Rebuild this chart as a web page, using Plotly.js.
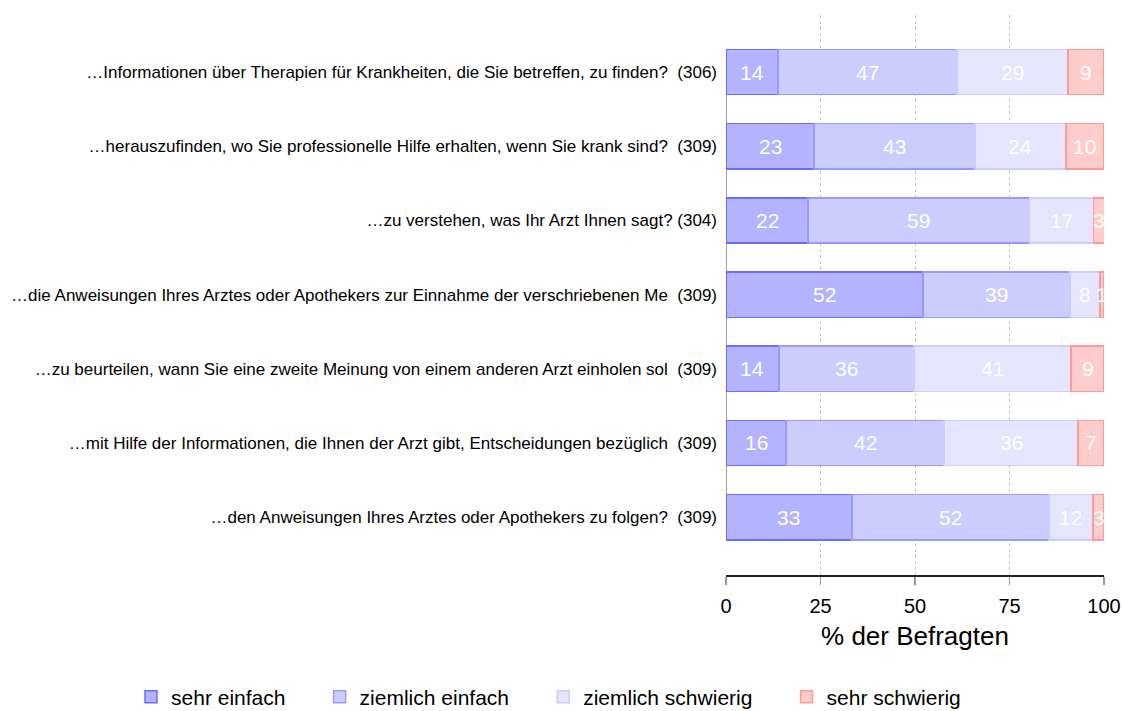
<!DOCTYPE html>
<html>
<head>
<meta charset="utf-8">
<script src="https://cdn.plot.ly/plotly-3.0.1.min.js"></script>
<style>html,body{margin:0;padding:0;background:#fff;}#chart{width:1125px;height:711px;}</style>
</head>
<body>
<div id="chart"></div>
<script>
const NB = '\u00a0';
const categories = [
  '…Informationen über Therapien für Krankheiten, die Sie betreffen, zu finden?' + NB + NB + '(306)',
  '…herauszufinden, wo Sie professionelle Hilfe erhalten, wenn Sie krank sind?' + NB + NB + '(309)',
  '…zu verstehen, was Ihr Arzt Ihnen sagt? (304)',
  '…die Anweisungen Ihres Arztes oder Apothekers zur Einnahme der verschriebenen Me' + NB + NB + '(309)',
  '…zu beurteilen, wann Sie eine zweite Meinung von einem anderen Arzt einholen sol' + NB + NB + '(309)',
  '…mit Hilfe der Informationen, die Ihnen der Arzt gibt, Entscheidungen bezüglich' + NB + NB + '(309)',
  '…den Anweisungen Ihres Arztes oder Apothekers zu folgen?' + NB + NB + '(309)'
];
const seriesNames = ['sehr einfach', 'ziemlich einfach', 'ziemlich schwierig', 'sehr schwierig'];
const sehrEinfach       = [13.8, 23.3, 21.7, 52.1, 14.0, 15.9, 33.3];
const ziemlichEinfach   = [47.3, 42.6, 58.6, 38.9, 35.7, 41.8, 52.1];
const ziemlichSchwierig = [29.4, 24.0, 16.9, 7.9, 41.6, 35.4, 11.7];
const sehrSchwierig     = [9.4, 10.1, 2.9, 1.1, 8.7, 6.9, 2.9];
const labelsSehrEinfach       = [14, 23, 22, 52, 14, 16, 33];
const labelsZiemlichEinfach   = [47, 43, 59, 39, 36, 42, 52];
const labelsZiemlichSchwierig = [29, 24, 17, 8, 41, 36, 12];
const labelsSehrSchwierig     = [9, 10, 3, 1, 9, 7, 3];
const xTicks = [0, 25, 50, 75, 100];

const FONT = 'Liberation Sans, Arial, Helvetica, sans-serif';
const values = [sehrEinfach, ziemlichEinfach, ziemlichSchwierig, sehrSchwierig];
const labels = [labelsSehrEinfach, labelsZiemlichEinfach, labelsZiemlichSchwierig, labelsSehrSchwierig];
const fills = ['#b3b3ff', '#ccccff', '#e5e5ff', '#ffcccc'];
const lines = ['#6b6bff', '#9999ff', '#ccccff', '#ff9999'];
const legendPad = NB + NB + NB + NB + NB;

const traces = values.map((v, i) => ({
  type: 'bar',
  orientation: 'h',
  name: seriesNames[i] + (i < values.length - 1 ? legendPad : ''),
  x: v,
  y: categories,
  textposition: 'none',
  marker: {color: fills[i], line: {color: lines[i], width: 1.5}},
  width: 0.61,
  hoverinfo: 'skip'
}));

// segment labels placed at the middle of each stacked segment (data coordinates)
const annotations = [];
categories.forEach((cat, r) => {
  let start = 0;
  values.forEach((v, i) => {
    annotations.push({
      x: start + v[r] / 2, y: cat, xref: 'x', yref: 'y',
      text: String(labels[i][r]), showarrow: false,
      font: {family: FONT, size: 21, color: '#ffffff'},
      xanchor: 'center', yanchor: 'middle'
    });
    start += v[r];
  });
});

const layout = {
  width: 1125, height: 711,
  barmode: 'stack',
  paper_bgcolor: '#ffffff',
  plot_bgcolor: '#ffffff',
  margin: {l: 726, r: 21, t: 15, b: 136, autoexpand: false},
  font: {family: FONT, color: '#000'},
  xaxis: {
    range: [0, 100],
    tickvals: xTicks,
    ticktext: xTicks.map(String),
    showgrid: true, gridcolor: '#c4c4c4', griddash: 'dot', gridwidth: 1,
    zeroline: false,
    showline: true, linecolor: '#222', linewidth: 1.5,
    ticks: 'outside', ticklen: 8, tickcolor: '#999', tickwidth: 1.5,
    tickfont: {size: 20, color: '#000'},
    ticklabelstandoff: 4,
    automargin: true,
    title: {text: '% der Befragten', font: {size: 26, color: '#000'}, standoff: 11},
    fixedrange: true
  },
  yaxis: {
    autorange: false,
    range: [6.78, -0.77],
    type: 'category',
    showgrid: false, zeroline: false, showline: false,
    ticks: '', ticklen: 0,
    tickfont: {size: 17, color: '#000'},
    ticklabelstandoff: 8,
    fixedrange: true
  },
  shapes: [{
    type: 'line', xref: 'x', yref: 'y', x0: 0, x1: 0, y0: 0, y1: 6,
    line: {color: '#a0a0a0', width: 2}, layer: 'below'
  }],
  annotations: annotations,
  legend: {
    orientation: 'h', xref: 'paper', yref: 'paper',
    x: -1.574, xanchor: 'left', y: -0.218, yanchor: 'middle',
    font: {size: 21, color: '#000'}, traceorder: 'normal',
    bgcolor: 'rgba(0,0,0,0)'
  },
  showlegend: true
};

Plotly.newPlot('chart', traces, layout, {displayModeBar: false, staticPlot: true});
</script>
</body>
</html>
